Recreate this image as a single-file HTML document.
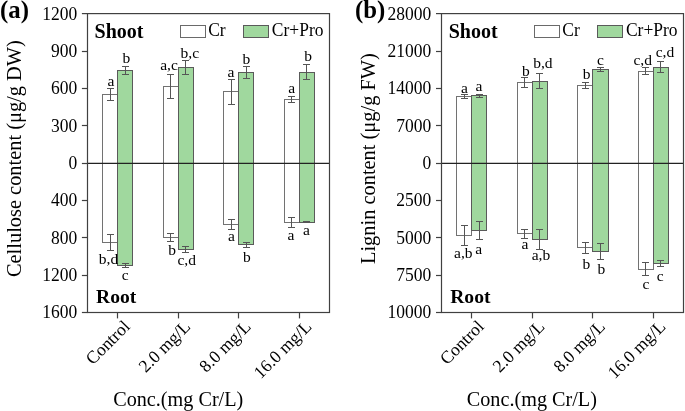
<!DOCTYPE html>
<html><head><meta charset="utf-8"><style>
html,body{margin:0;padding:0;background:#fff;width:685px;height:411px;overflow:hidden}
svg{display:block;will-change:transform}
text{font-family:"Liberation Serif", serif;fill:#000}
</style></head><body>
<svg width="685" height="411" viewBox="0 0 685 411">
<rect width="685" height="411" fill="#fff"/>
<rect x="102.50" y="163.50" width="15.00" height="79.00" fill="#ffffff" stroke="#727272" stroke-width="1"/>
<rect x="117.50" y="163.50" width="15.00" height="102.00" fill="#a0d89e" stroke="#5a5a5a" stroke-width="1"/>
<rect x="163.50" y="163.50" width="15.00" height="74.00" fill="#ffffff" stroke="#727272" stroke-width="1"/>
<rect x="178.50" y="163.50" width="15.00" height="86.00" fill="#a0d89e" stroke="#5a5a5a" stroke-width="1"/>
<rect x="223.50" y="163.50" width="15.00" height="61.00" fill="#ffffff" stroke="#727272" stroke-width="1"/>
<rect x="238.50" y="163.50" width="15.00" height="81.00" fill="#a0d89e" stroke="#5a5a5a" stroke-width="1"/>
<rect x="284.50" y="163.50" width="15.00" height="59.00" fill="#ffffff" stroke="#727272" stroke-width="1"/>
<rect x="299.50" y="163.50" width="15.00" height="59.00" fill="#a0d89e" stroke="#5a5a5a" stroke-width="1"/>
<line x1="81.90" y1="13.60" x2="87.50" y2="13.60" stroke="#404040" stroke-width="1.2"/>
<text transform="translate(77.30,19.60) scale(1,1.1)" text-anchor="end" font-size="17.5">1200</text>
<line x1="81.90" y1="51.50" x2="87.50" y2="51.50" stroke="#404040" stroke-width="1.2"/>
<text transform="translate(77.30,56.93) scale(1,1.1)" text-anchor="end" font-size="17.5">900</text>
<line x1="81.90" y1="88.50" x2="87.50" y2="88.50" stroke="#404040" stroke-width="1.2"/>
<text transform="translate(77.30,94.25) scale(1,1.1)" text-anchor="end" font-size="17.5">600</text>
<line x1="81.90" y1="125.50" x2="87.50" y2="125.50" stroke="#404040" stroke-width="1.2"/>
<text transform="translate(77.30,131.58) scale(1,1.1)" text-anchor="end" font-size="17.5">300</text>
<line x1="81.90" y1="163.50" x2="87.50" y2="163.50" stroke="#404040" stroke-width="1.2"/>
<text transform="translate(77.30,168.90) scale(1,1.1)" text-anchor="end" font-size="17.5">0</text>
<line x1="81.90" y1="200.50" x2="87.50" y2="200.50" stroke="#404040" stroke-width="1.2"/>
<text transform="translate(77.30,206.22) scale(1,1.1)" text-anchor="end" font-size="17.5">400</text>
<line x1="81.90" y1="237.50" x2="87.50" y2="237.50" stroke="#404040" stroke-width="1.2"/>
<text transform="translate(77.30,243.55) scale(1,1.1)" text-anchor="end" font-size="17.5">800</text>
<line x1="81.90" y1="275.50" x2="87.50" y2="275.50" stroke="#404040" stroke-width="1.2"/>
<text transform="translate(77.30,280.88) scale(1,1.1)" text-anchor="end" font-size="17.5">1200</text>
<line x1="81.90" y1="312.50" x2="87.50" y2="312.50" stroke="#404040" stroke-width="1.2"/>
<text transform="translate(77.30,318.20) scale(1,1.1)" text-anchor="end" font-size="17.5">1600</text>
<rect x="102.50" y="94.50" width="15.00" height="69.00" fill="#ffffff" stroke="#727272" stroke-width="1"/>
<rect x="117.50" y="70.50" width="15.00" height="93.00" fill="#a0d89e" stroke="#5a5a5a" stroke-width="1"/>
<rect x="163.50" y="86.50" width="15.00" height="77.00" fill="#ffffff" stroke="#727272" stroke-width="1"/>
<rect x="178.50" y="67.50" width="15.00" height="96.00" fill="#a0d89e" stroke="#5a5a5a" stroke-width="1"/>
<rect x="223.50" y="91.50" width="15.00" height="72.00" fill="#ffffff" stroke="#727272" stroke-width="1"/>
<rect x="238.50" y="72.50" width="15.00" height="91.00" fill="#a0d89e" stroke="#5a5a5a" stroke-width="1"/>
<rect x="284.50" y="99.50" width="15.00" height="64.00" fill="#ffffff" stroke="#727272" stroke-width="1"/>
<rect x="299.50" y="72.50" width="15.00" height="91.00" fill="#a0d89e" stroke="#5a5a5a" stroke-width="1"/>
<line x1="87.40" y1="163.30" x2="329.60" y2="163.30" stroke="#222" stroke-width="1.3"/>
<line x1="110.50" y1="88.50" x2="110.50" y2="100.50" stroke="#555555" stroke-width="1"/>
<line x1="107.00" y1="88.50" x2="114.00" y2="88.50" stroke="#555555" stroke-width="1"/>
<line x1="107.00" y1="100.50" x2="114.00" y2="100.50" stroke="#555555" stroke-width="1"/>
<line x1="125.50" y1="66.50" x2="125.50" y2="74.50" stroke="#555555" stroke-width="1"/>
<line x1="122.00" y1="66.50" x2="129.00" y2="66.50" stroke="#555555" stroke-width="1"/>
<line x1="122.00" y1="74.50" x2="129.00" y2="74.50" stroke="#555555" stroke-width="1"/>
<line x1="170.50" y1="74.50" x2="170.50" y2="98.50" stroke="#555555" stroke-width="1"/>
<line x1="167.00" y1="74.50" x2="174.00" y2="74.50" stroke="#555555" stroke-width="1"/>
<line x1="167.00" y1="98.50" x2="174.00" y2="98.50" stroke="#555555" stroke-width="1"/>
<line x1="185.50" y1="60.50" x2="185.50" y2="74.50" stroke="#555555" stroke-width="1"/>
<line x1="182.00" y1="60.50" x2="189.00" y2="60.50" stroke="#555555" stroke-width="1"/>
<line x1="182.00" y1="74.50" x2="189.00" y2="74.50" stroke="#555555" stroke-width="1"/>
<line x1="231.50" y1="79.50" x2="231.50" y2="104.50" stroke="#555555" stroke-width="1"/>
<line x1="228.00" y1="79.50" x2="235.00" y2="79.50" stroke="#555555" stroke-width="1"/>
<line x1="228.00" y1="104.50" x2="235.00" y2="104.50" stroke="#555555" stroke-width="1"/>
<line x1="246.50" y1="66.50" x2="246.50" y2="78.50" stroke="#555555" stroke-width="1"/>
<line x1="243.00" y1="66.50" x2="250.00" y2="66.50" stroke="#555555" stroke-width="1"/>
<line x1="243.00" y1="78.50" x2="250.00" y2="78.50" stroke="#555555" stroke-width="1"/>
<line x1="291.50" y1="96.50" x2="291.50" y2="102.50" stroke="#555555" stroke-width="1"/>
<line x1="288.00" y1="96.50" x2="295.00" y2="96.50" stroke="#555555" stroke-width="1"/>
<line x1="288.00" y1="102.50" x2="295.00" y2="102.50" stroke="#555555" stroke-width="1"/>
<line x1="306.50" y1="64.50" x2="306.50" y2="79.50" stroke="#555555" stroke-width="1"/>
<line x1="303.00" y1="64.50" x2="310.00" y2="64.50" stroke="#555555" stroke-width="1"/>
<line x1="303.00" y1="79.50" x2="310.00" y2="79.50" stroke="#555555" stroke-width="1"/>
<text x="107.40" y="85.50" font-size="15.5">a</text>
<text x="122.40" y="63.20" font-size="15.5">b</text>
<text x="160.20" y="69.80" font-size="15.5">a,c</text>
<text x="180.60" y="58.00" font-size="15.5">b,c</text>
<text x="227.50" y="76.50" font-size="15.5">a</text>
<text x="242.50" y="63.50" font-size="15.5">b</text>
<text x="288.20" y="92.90" font-size="15.5">a</text>
<text x="304.20" y="61.30" font-size="15.5">b</text>
<text x="98.80" y="263.80" font-size="15.5">b,d</text>
<text x="121.70" y="280.00" font-size="15.5">c</text>
<text x="168.20" y="255.40" font-size="15.5">b</text>
<text x="177.40" y="264.80" font-size="15.5">c,d</text>
<text x="228.10" y="241.00" font-size="15.5">a</text>
<text x="243.10" y="262.20" font-size="15.5">b</text>
<text x="287.50" y="239.60" font-size="15.5">a</text>
<text x="303.10" y="234.90" font-size="15.5">a</text>
<rect x="87.50" y="13.6" width="242.00" height="298.90" fill="none" stroke="#404040" stroke-width="1.2"/>
<line x1="117.50" y1="312.5" x2="117.50" y2="318.40" stroke="#404040" stroke-width="1.2"/>
<text transform="translate(130.88,327.60) rotate(-45)" text-anchor="end" font-size="17.6">Control</text>
<line x1="178.50" y1="312.5" x2="178.50" y2="318.40" stroke="#404040" stroke-width="1.2"/>
<text transform="translate(191.43,327.60) rotate(-45)" text-anchor="end" font-size="17.6">2.0 mg/L</text>
<line x1="238.50" y1="312.5" x2="238.50" y2="318.40" stroke="#404040" stroke-width="1.2"/>
<text transform="translate(251.97,327.60) rotate(-45)" text-anchor="end" font-size="17.6">8.0 mg/L</text>
<line x1="299.50" y1="312.5" x2="299.50" y2="318.40" stroke="#404040" stroke-width="1.2"/>
<text transform="translate(312.53,327.60) rotate(-45)" text-anchor="end" font-size="17.6">16.0 mg/L</text>
<text x="94.60" y="37.6" font-size="20" font-weight="bold">Shoot</text>
<text x="96.10" y="302.9" font-size="19.6" font-weight="bold">Root</text>
<rect x="180.50" y="25.5" width="25" height="12" fill="#fff" stroke="#6a6a6a" stroke-width="1"/>
<text transform="translate(208.20,35.6) scale(1,1.08)" font-size="17.5">Cr</text>
<rect x="243.50" y="25.5" width="25" height="12" fill="#a0d89e" stroke="#5a5a5a" stroke-width="1"/>
<text transform="translate(271.80,35.6) scale(1,1.08)" font-size="17.5">Cr+Pro</text>
<text transform="translate(20.60,158.60) rotate(-90)" text-anchor="middle" font-size="20.4">Cellulose content (μg/g DW)</text>
<text x="113.20" y="406.1" font-size="20.2">Conc.(mg Cr/L)</text>
<text x="0.00" y="18" font-size="24.8" font-weight="bold">(a)</text>
<line x1="110.50" y1="234.50" x2="110.50" y2="250.50" stroke="#555555" stroke-width="1"/>
<line x1="107.00" y1="234.50" x2="114.00" y2="234.50" stroke="#555555" stroke-width="1"/>
<line x1="107.00" y1="250.50" x2="114.00" y2="250.50" stroke="#555555" stroke-width="1"/>
<line x1="125.50" y1="263.50" x2="125.50" y2="267.50" stroke="#555555" stroke-width="1"/>
<line x1="122.00" y1="263.50" x2="129.00" y2="263.50" stroke="#555555" stroke-width="1"/>
<line x1="122.00" y1="267.50" x2="129.00" y2="267.50" stroke="#555555" stroke-width="1"/>
<line x1="170.50" y1="233.50" x2="170.50" y2="241.50" stroke="#555555" stroke-width="1"/>
<line x1="167.00" y1="233.50" x2="174.00" y2="233.50" stroke="#555555" stroke-width="1"/>
<line x1="167.00" y1="241.50" x2="174.00" y2="241.50" stroke="#555555" stroke-width="1"/>
<line x1="185.50" y1="246.50" x2="185.50" y2="252.50" stroke="#555555" stroke-width="1"/>
<line x1="182.00" y1="246.50" x2="189.00" y2="246.50" stroke="#555555" stroke-width="1"/>
<line x1="182.00" y1="252.50" x2="189.00" y2="252.50" stroke="#555555" stroke-width="1"/>
<line x1="231.50" y1="219.50" x2="231.50" y2="229.50" stroke="#555555" stroke-width="1"/>
<line x1="228.00" y1="219.50" x2="235.00" y2="219.50" stroke="#555555" stroke-width="1"/>
<line x1="228.00" y1="229.50" x2="235.00" y2="229.50" stroke="#555555" stroke-width="1"/>
<line x1="246.50" y1="242.50" x2="246.50" y2="247.50" stroke="#555555" stroke-width="1"/>
<line x1="243.00" y1="242.50" x2="250.00" y2="242.50" stroke="#555555" stroke-width="1"/>
<line x1="243.00" y1="247.50" x2="250.00" y2="247.50" stroke="#555555" stroke-width="1"/>
<line x1="291.50" y1="217.50" x2="291.50" y2="227.50" stroke="#555555" stroke-width="1"/>
<line x1="288.00" y1="217.50" x2="295.00" y2="217.50" stroke="#555555" stroke-width="1"/>
<line x1="288.00" y1="227.50" x2="295.00" y2="227.50" stroke="#555555" stroke-width="1"/>
<line x1="306.50" y1="221.50" x2="306.50" y2="222.50" stroke="#555555" stroke-width="1"/>
<line x1="303.00" y1="221.50" x2="310.00" y2="221.50" stroke="#555555" stroke-width="1"/>
<line x1="303.00" y1="222.50" x2="310.00" y2="222.50" stroke="#555555" stroke-width="1"/>
<rect x="456.50" y="163.50" width="15.00" height="72.00" fill="#ffffff" stroke="#727272" stroke-width="1"/>
<rect x="471.50" y="163.50" width="15.00" height="67.00" fill="#a0d89e" stroke="#5a5a5a" stroke-width="1"/>
<rect x="517.50" y="163.50" width="15.00" height="70.00" fill="#ffffff" stroke="#727272" stroke-width="1"/>
<rect x="532.50" y="163.50" width="15.00" height="76.00" fill="#a0d89e" stroke="#5a5a5a" stroke-width="1"/>
<rect x="577.50" y="163.50" width="15.00" height="84.00" fill="#ffffff" stroke="#727272" stroke-width="1"/>
<rect x="592.50" y="163.50" width="16.00" height="88.00" fill="#a0d89e" stroke="#5a5a5a" stroke-width="1"/>
<rect x="638.50" y="163.50" width="15.00" height="106.00" fill="#ffffff" stroke="#727272" stroke-width="1"/>
<rect x="653.50" y="163.50" width="15.00" height="100.00" fill="#a0d89e" stroke="#5a5a5a" stroke-width="1"/>
<line x1="436.00" y1="13.60" x2="441.50" y2="13.60" stroke="#404040" stroke-width="1.2"/>
<text transform="translate(431.30,19.60) scale(1,1.1)" text-anchor="end" font-size="17.5">28000</text>
<line x1="436.00" y1="51.50" x2="441.50" y2="51.50" stroke="#404040" stroke-width="1.2"/>
<text transform="translate(431.30,56.93) scale(1,1.1)" text-anchor="end" font-size="17.5">21000</text>
<line x1="436.00" y1="88.50" x2="441.50" y2="88.50" stroke="#404040" stroke-width="1.2"/>
<text transform="translate(431.30,94.25) scale(1,1.1)" text-anchor="end" font-size="17.5">14000</text>
<line x1="436.00" y1="125.50" x2="441.50" y2="125.50" stroke="#404040" stroke-width="1.2"/>
<text transform="translate(431.30,131.58) scale(1,1.1)" text-anchor="end" font-size="17.5">7000</text>
<line x1="436.00" y1="163.50" x2="441.50" y2="163.50" stroke="#404040" stroke-width="1.2"/>
<text transform="translate(431.30,168.90) scale(1,1.1)" text-anchor="end" font-size="17.5">0</text>
<line x1="436.00" y1="200.50" x2="441.50" y2="200.50" stroke="#404040" stroke-width="1.2"/>
<text transform="translate(431.30,206.22) scale(1,1.1)" text-anchor="end" font-size="17.5">2500</text>
<line x1="436.00" y1="237.50" x2="441.50" y2="237.50" stroke="#404040" stroke-width="1.2"/>
<text transform="translate(431.30,243.55) scale(1,1.1)" text-anchor="end" font-size="17.5">5000</text>
<line x1="436.00" y1="275.50" x2="441.50" y2="275.50" stroke="#404040" stroke-width="1.2"/>
<text transform="translate(431.30,280.88) scale(1,1.1)" text-anchor="end" font-size="17.5">7500</text>
<line x1="436.00" y1="312.50" x2="441.50" y2="312.50" stroke="#404040" stroke-width="1.2"/>
<text transform="translate(431.30,318.20) scale(1,1.1)" text-anchor="end" font-size="17.5">10000</text>
<rect x="456.50" y="96.50" width="15.00" height="67.00" fill="#ffffff" stroke="#727272" stroke-width="1"/>
<rect x="471.50" y="95.50" width="15.00" height="68.00" fill="#a0d89e" stroke="#5a5a5a" stroke-width="1"/>
<rect x="517.50" y="82.50" width="15.00" height="81.00" fill="#ffffff" stroke="#727272" stroke-width="1"/>
<rect x="532.50" y="81.50" width="15.00" height="82.00" fill="#a0d89e" stroke="#5a5a5a" stroke-width="1"/>
<rect x="577.50" y="85.50" width="15.00" height="78.00" fill="#ffffff" stroke="#727272" stroke-width="1"/>
<rect x="592.50" y="69.50" width="16.00" height="94.00" fill="#a0d89e" stroke="#5a5a5a" stroke-width="1"/>
<rect x="638.50" y="71.50" width="15.00" height="92.00" fill="#ffffff" stroke="#727272" stroke-width="1"/>
<rect x="653.50" y="67.50" width="15.00" height="96.00" fill="#a0d89e" stroke="#5a5a5a" stroke-width="1"/>
<line x1="441.50" y1="163.30" x2="683.60" y2="163.30" stroke="#222" stroke-width="1.3"/>
<line x1="464.50" y1="94.50" x2="464.50" y2="98.50" stroke="#555555" stroke-width="1"/>
<line x1="461.00" y1="94.50" x2="468.00" y2="94.50" stroke="#555555" stroke-width="1"/>
<line x1="461.00" y1="98.50" x2="468.00" y2="98.50" stroke="#555555" stroke-width="1"/>
<line x1="479.50" y1="94.50" x2="479.50" y2="97.50" stroke="#555555" stroke-width="1"/>
<line x1="476.00" y1="94.50" x2="483.00" y2="94.50" stroke="#555555" stroke-width="1"/>
<line x1="476.00" y1="97.50" x2="483.00" y2="97.50" stroke="#555555" stroke-width="1"/>
<line x1="524.50" y1="77.50" x2="524.50" y2="87.50" stroke="#555555" stroke-width="1"/>
<line x1="521.00" y1="77.50" x2="528.00" y2="77.50" stroke="#555555" stroke-width="1"/>
<line x1="521.00" y1="87.50" x2="528.00" y2="87.50" stroke="#555555" stroke-width="1"/>
<line x1="539.50" y1="73.50" x2="539.50" y2="88.50" stroke="#555555" stroke-width="1"/>
<line x1="536.00" y1="73.50" x2="543.00" y2="73.50" stroke="#555555" stroke-width="1"/>
<line x1="536.00" y1="88.50" x2="543.00" y2="88.50" stroke="#555555" stroke-width="1"/>
<line x1="585.50" y1="82.50" x2="585.50" y2="88.50" stroke="#555555" stroke-width="1"/>
<line x1="582.00" y1="82.50" x2="589.00" y2="82.50" stroke="#555555" stroke-width="1"/>
<line x1="582.00" y1="88.50" x2="589.00" y2="88.50" stroke="#555555" stroke-width="1"/>
<line x1="600.50" y1="67.50" x2="600.50" y2="71.50" stroke="#555555" stroke-width="1"/>
<line x1="597.00" y1="67.50" x2="604.00" y2="67.50" stroke="#555555" stroke-width="1"/>
<line x1="597.00" y1="71.50" x2="604.00" y2="71.50" stroke="#555555" stroke-width="1"/>
<line x1="645.50" y1="67.50" x2="645.50" y2="74.50" stroke="#555555" stroke-width="1"/>
<line x1="642.00" y1="67.50" x2="649.00" y2="67.50" stroke="#555555" stroke-width="1"/>
<line x1="642.00" y1="74.50" x2="649.00" y2="74.50" stroke="#555555" stroke-width="1"/>
<line x1="660.50" y1="61.50" x2="660.50" y2="72.50" stroke="#555555" stroke-width="1"/>
<line x1="657.00" y1="61.50" x2="664.00" y2="61.50" stroke="#555555" stroke-width="1"/>
<line x1="657.00" y1="72.50" x2="664.00" y2="72.50" stroke="#555555" stroke-width="1"/>
<text x="461.00" y="92.60" font-size="15.5">a</text>
<text x="475.50" y="90.70" font-size="15.5">a</text>
<text x="521.90" y="75.50" font-size="15.5">b</text>
<text x="533.20" y="68.20" font-size="15.5">b,d</text>
<text x="582.70" y="79.30" font-size="15.5">b</text>
<text x="596.90" y="64.50" font-size="15.5">c</text>
<text x="633.40" y="64.70" font-size="15.5">c,d</text>
<text x="655.70" y="57.40" font-size="15.5">c,d</text>
<text x="454.10" y="257.70" font-size="15.5">a,b</text>
<text x="475.30" y="254.20" font-size="15.5">a</text>
<text x="521.50" y="249.30" font-size="15.5">a</text>
<text x="531.70" y="259.70" font-size="15.5">a,b</text>
<text x="582.40" y="269.40" font-size="15.5">b</text>
<text x="597.60" y="274.10" font-size="15.5">b</text>
<text x="642.50" y="288.70" font-size="15.5">c</text>
<text x="656.80" y="280.60" font-size="15.5">c</text>
<rect x="441.50" y="13.6" width="242.00" height="298.90" fill="none" stroke="#404040" stroke-width="1.2"/>
<line x1="471.50" y1="312.5" x2="471.50" y2="318.40" stroke="#404040" stroke-width="1.2"/>
<text transform="translate(484.96,327.60) rotate(-45)" text-anchor="end" font-size="17.6">Control</text>
<line x1="532.50" y1="312.5" x2="532.50" y2="318.40" stroke="#404040" stroke-width="1.2"/>
<text transform="translate(545.49,327.60) rotate(-45)" text-anchor="end" font-size="17.6">2.0 mg/L</text>
<line x1="592.50" y1="312.5" x2="592.50" y2="318.40" stroke="#404040" stroke-width="1.2"/>
<text transform="translate(606.01,327.60) rotate(-45)" text-anchor="end" font-size="17.6">8.0 mg/L</text>
<line x1="653.50" y1="312.5" x2="653.50" y2="318.40" stroke="#404040" stroke-width="1.2"/>
<text transform="translate(666.54,327.60) rotate(-45)" text-anchor="end" font-size="17.6">16.0 mg/L</text>
<text x="448.70" y="37.6" font-size="20" font-weight="bold">Shoot</text>
<text x="450.20" y="302.9" font-size="19.6" font-weight="bold">Root</text>
<rect x="534.50" y="25.5" width="25" height="12" fill="#fff" stroke="#6a6a6a" stroke-width="1"/>
<text transform="translate(562.30,35.6) scale(1,1.08)" font-size="17.5">Cr</text>
<rect x="597.50" y="25.5" width="25" height="12" fill="#a0d89e" stroke="#5a5a5a" stroke-width="1"/>
<text transform="translate(625.90,35.6) scale(1,1.08)" font-size="17.5">Cr+Pro</text>
<text transform="translate(375.00,158.60) rotate(-90)" text-anchor="middle" font-size="20.4">Lignin content (μg/g FW)</text>
<text x="466.80" y="406.1" font-size="20.2">Conc.(mg Cr/L)</text>
<text x="355.00" y="18" font-size="24.8" font-weight="bold">(b)</text>
<line x1="464.50" y1="225.50" x2="464.50" y2="245.50" stroke="#555555" stroke-width="1"/>
<line x1="461.00" y1="225.50" x2="468.00" y2="225.50" stroke="#555555" stroke-width="1"/>
<line x1="461.00" y1="245.50" x2="468.00" y2="245.50" stroke="#555555" stroke-width="1"/>
<line x1="479.50" y1="221.50" x2="479.50" y2="239.50" stroke="#555555" stroke-width="1"/>
<line x1="476.00" y1="221.50" x2="483.00" y2="221.50" stroke="#555555" stroke-width="1"/>
<line x1="476.00" y1="239.50" x2="483.00" y2="239.50" stroke="#555555" stroke-width="1"/>
<line x1="524.50" y1="229.50" x2="524.50" y2="238.50" stroke="#555555" stroke-width="1"/>
<line x1="521.00" y1="229.50" x2="528.00" y2="229.50" stroke="#555555" stroke-width="1"/>
<line x1="521.00" y1="238.50" x2="528.00" y2="238.50" stroke="#555555" stroke-width="1"/>
<line x1="539.50" y1="229.50" x2="539.50" y2="249.50" stroke="#555555" stroke-width="1"/>
<line x1="536.00" y1="229.50" x2="543.00" y2="229.50" stroke="#555555" stroke-width="1"/>
<line x1="536.00" y1="249.50" x2="543.00" y2="249.50" stroke="#555555" stroke-width="1"/>
<line x1="585.50" y1="242.50" x2="585.50" y2="253.50" stroke="#555555" stroke-width="1"/>
<line x1="582.00" y1="242.50" x2="589.00" y2="242.50" stroke="#555555" stroke-width="1"/>
<line x1="582.00" y1="253.50" x2="589.00" y2="253.50" stroke="#555555" stroke-width="1"/>
<line x1="600.50" y1="243.50" x2="600.50" y2="259.50" stroke="#555555" stroke-width="1"/>
<line x1="597.00" y1="243.50" x2="604.00" y2="243.50" stroke="#555555" stroke-width="1"/>
<line x1="597.00" y1="259.50" x2="604.00" y2="259.50" stroke="#555555" stroke-width="1"/>
<line x1="645.50" y1="262.50" x2="645.50" y2="275.50" stroke="#555555" stroke-width="1"/>
<line x1="642.00" y1="262.50" x2="649.00" y2="262.50" stroke="#555555" stroke-width="1"/>
<line x1="642.00" y1="275.50" x2="649.00" y2="275.50" stroke="#555555" stroke-width="1"/>
<line x1="660.50" y1="260.50" x2="660.50" y2="266.50" stroke="#555555" stroke-width="1"/>
<line x1="657.00" y1="260.50" x2="664.00" y2="260.50" stroke="#555555" stroke-width="1"/>
<line x1="657.00" y1="266.50" x2="664.00" y2="266.50" stroke="#555555" stroke-width="1"/>
</svg>
</body></html>
